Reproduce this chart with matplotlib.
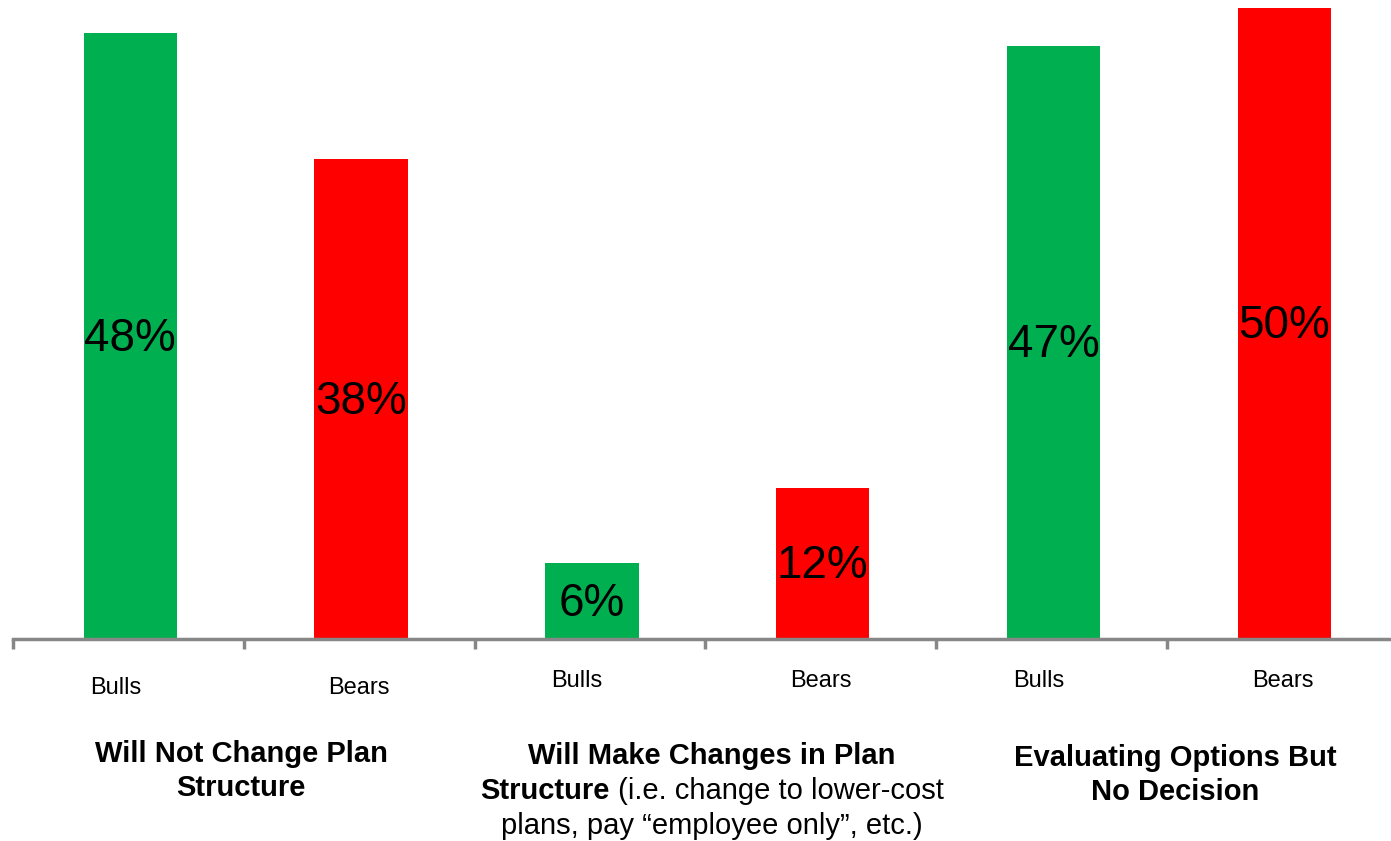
import matplotlib
matplotlib.use("Agg")
import matplotlib.pyplot as plt
from matplotlib.transforms import offset_copy

plt.rcParams['font.family'] = ['Liberation Sans', 'DejaVu Sans']

# ---- data ----
bar_labels = ["Bulls", "Bears", "Bulls", "Bears", "Bulls", "Bears"]
values = [48, 38, 6, 12, 47, 50]
colors = ["#00B050", "#FF0000", "#00B050", "#FF0000", "#00B050", "#FF0000"]

W, H = 1391, 841
fig = plt.figure(figsize=(W / 100, H / 100), dpi=100)
ax = fig.add_axes([13 / W, 1 - 639 / H, (W - 13) / W, (639 - 8) / H])

x = list(range(len(values)))
ax.bar([xi + 0.008 for xi in x], values, width=0.405, color=colors, zorder=2)
ax.set_ylim(0, 50)
ax.set_xlim(-0.5, -0.5 + (W - 13) / 230.8)

lbl_tr = offset_copy(ax.transData, fig=fig, x=0, y=-3, units="dots")
for xi, v in zip(x, values):
    ax.text(xi + 0.008, v / 2, f"{v}%", ha="center", va="center", fontsize=33,
            color="black", zorder=3, transform=lbl_tr)

for s in ["top", "left", "right"]:
    ax.spines[s].set_visible(False)
ax.spines["bottom"].set_color("#878787")
ax.spines["bottom"].set_linewidth(2.5)
ax.set_yticks([])
ax.set_xticks([i - 0.5 for i in range(len(values))])
ax.set_xticklabels([])
ax.tick_params(axis="x", length=7, width=2.5, color="#878787", direction="out")

# bar category labels
label_y = [688, 688, 681, 681, 681, 681]
for xi, lab, ly in zip(x, bar_labels, label_y):
    off = -13 if lab == "Bulls" else 0
    xp = ax.transData.transform((xi, 0))[0] + off
    fig.text(xp / W, 1 - ly / H, lab, ha="center", va="center", fontsize=17)

# group labels
fs = 21
fig.text(241 / W, 1 - 754 / H, "Will Not Change Plan", ha="center", va="center", fontsize=fs, fontweight="bold")
fig.text(241 / W, 1 - 788 / H, "Structure", ha="center", va="center", fontsize=fs, fontweight="bold")

fig.text(712 / W, 1 - 756 / H, "Will Make Changes in Plan", ha="center", va="center", fontsize=fs, fontweight="bold")
r = fig.canvas.get_renderer()
t1 = fig.text(0, 1 - 791 / H, "Structure", ha="left", va="center", fontsize=fs, fontweight="bold")
t2 = fig.text(0, 1 - 791 / H, " (i.e. change to lower-cost", ha="left", va="center", fontsize=fs)
w1 = t1.get_window_extent(r).width
w2 = t2.get_window_extent(r).width
start = 712 - (w1 + w2) / 2
t1.set_x(start / W)
t2.set_x((start + w1) / W)
fig.text(712 / W, 1 - 826 / H, "plans, pay \u201cemployee only\u201d, etc.)", ha="center", va="center", fontsize=fs)

fig.text(1175 / W, 1 - 758 / H, "Evaluating Options But", ha="center", va="center", fontsize=fs, fontweight="bold")
fig.text(1175 / W, 1 - 792 / H, "No Decision", ha="center", va="center", fontsize=fs, fontweight="bold")

fig.savefig("out.png", dpi=100, facecolor="white")
